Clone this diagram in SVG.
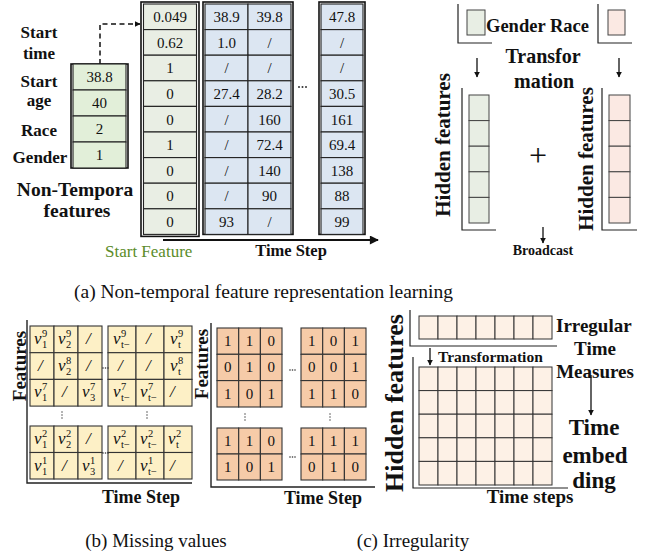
<svg xmlns="http://www.w3.org/2000/svg" width="645" height="555" viewBox="0 0 645 555">
<defs>
<style>
text{font-family:"Liberation Serif","Times New Roman",serif;fill:#111}
.b{font-weight:bold}
.lab{font-weight:bold;font-size:17px;text-anchor:middle}
.num{font-size:15px;text-anchor:middle}
.frame{fill:none;stroke:#111;stroke-width:1.6}
.cg{fill:#e9eee4;stroke:#222;stroke-width:1.1}
.cg2{fill:#e2efd9;stroke:#222;stroke-width:1.1}
.cb{fill:#dce6f2;stroke:#222;stroke-width:1.1}
.hg{fill:#e8eee4;stroke:#444;stroke-width:1}
.hp{fill:#fbe9e3;stroke:#444;stroke-width:1}
.cy{fill:#fdf0c6;stroke:#333;stroke-width:1.1}
.co{fill:#f6cba8;stroke:#333;stroke-width:1.1}
.cc{fill:#fdf1e6;stroke:#333;stroke-width:1}
.ax{fill:none;stroke:#222;stroke-width:1.4}
.ln{fill:none;stroke:#111;stroke-width:1.3}
.v{font-size:17px;font-style:italic}
.s{font-size:10.5px;font-style:normal}
.bit{font-size:15px;text-anchor:middle}
.dot{fill:#333}
</style>
<marker id="ah" viewBox="0 0 10 10" refX="9" refY="5" markerWidth="6" markerHeight="6" markerUnits="userSpaceOnUse" orient="auto"><path d="M0,0 L10,5 L0,10 z" fill="#111"/></marker>
<marker id="ahb" viewBox="0 0 10 10" refX="9" refY="5" markerWidth="11" markerHeight="9" markerUnits="userSpaceOnUse" orient="auto"><path d="M0,0 L10,5 L0,10 z" fill="#111"/></marker>
</defs>
<rect width="645" height="555" fill="#fff"/>

<!-- connectors -->
<g id="connectors">
<path d="M100,64 V24 H140" fill="none" stroke="#111" stroke-width="1.5" stroke-dasharray="5,3.5" marker-end="url(#ah)"/>
<line x1="163" y1="240" x2="378" y2="240" stroke="#111" stroke-width="2" marker-end="url(#ahb)"/>
<line x1="477" y1="58" x2="477" y2="77" class="ln" marker-end="url(#ah)"/>
<line x1="619" y1="58" x2="619" y2="77" class="ln" marker-end="url(#ah)"/>
<line x1="543" y1="227" x2="543" y2="243" class="ln" marker-end="url(#ah)"/>
<line x1="430" y1="348" x2="430" y2="365" class="ln" marker-end="url(#ah)"/>
<line x1="591" y1="375" x2="591" y2="415" class="ln" marker-end="url(#ah)"/>
</g>

<!-- (a) labels -->
<g id="nt-labels">
<text class="lab" x="39" y="38">Start</text>
<text class="lab" x="39" y="59">time</text>
<text class="lab" x="39" y="87">Start</text>
<text class="lab" x="39" y="106">age</text>
<text class="lab" x="39" y="136">Race</text>
<text class="lab" x="40" y="163">Gender</text>
<text class="b" x="75" y="196" font-size="19.5" text-anchor="middle">Non-Tempora</text>
<text class="b" x="77" y="217" font-size="19.5" text-anchor="middle">features</text>
</g>

<g id="nt-box">
<rect class="frame" x="71" y="64" width="57" height="104"/>
<rect class="cg2" x="73" y="64" width="53" height="26"/>
<rect class="cg2" x="73" y="90" width="53" height="26"/>
<rect class="cg2" x="73" y="116" width="53" height="26"/>
<rect class="cg2" x="73" y="142" width="53" height="26"/>
<text class="num" x="99.5" y="82">38.8</text>
<text class="num" x="99.5" y="108">40</text>
<text class="num" x="99.5" y="134">2</text>
<text class="num" x="99.5" y="160">1</text>
</g>

<g id="start-feature">
<rect class="frame" x="141" y="2" width="58" height="234.4"/>
<rect class="cg" x="143.5" y="4" width="53" height="25.6"/>
<rect class="cg" x="143.5" y="29.6" width="53" height="25.6"/>
<rect class="cg" x="143.5" y="55.2" width="53" height="25.6"/>
<rect class="cg" x="143.5" y="80.8" width="53" height="25.6"/>
<rect class="cg" x="143.5" y="106.4" width="53" height="25.6"/>
<rect class="cg" x="143.5" y="132" width="53" height="25.6"/>
<rect class="cg" x="143.5" y="157.6" width="53" height="25.6"/>
<rect class="cg" x="143.5" y="183.2" width="53" height="25.6"/>
<rect class="cg" x="143.5" y="208.8" width="53" height="25.6"/>
<text class="num" x="170" y="22">0.049</text>
<text class="num" x="170" y="47.5">0.62</text>
<text class="num" x="170" y="73">1</text>
<text class="num" x="170" y="99">0</text>
<text class="num" x="170" y="124.5">0</text>
<text class="num" x="170" y="150">1</text>
<text class="num" x="170" y="175.5">0</text>
<text class="num" x="170" y="201">0</text>
<text class="num" x="170" y="226.5">0</text>
<text x="105" y="257" font-size="17" style="fill:#5b8c2a">Start Feature</text>
</g>

<g id="time-cols">
<rect class="frame" x="203" y="2" width="90" height="232.4"/>
<g class="cb">
<rect x="205" y="4" width="43" height="25.6"/><rect x="248" y="4" width="43" height="25.6"/>
<rect x="205" y="29.6" width="43" height="25.6"/><rect x="248" y="29.6" width="43" height="25.6"/>
<rect x="205" y="55.2" width="43" height="25.6"/><rect x="248" y="55.2" width="43" height="25.6"/>
<rect x="205" y="80.8" width="43" height="25.6"/><rect x="248" y="80.8" width="43" height="25.6"/>
<rect x="205" y="106.4" width="43" height="25.6"/><rect x="248" y="106.4" width="43" height="25.6"/>
<rect x="205" y="132" width="43" height="25.6"/><rect x="248" y="132" width="43" height="25.6"/>
<rect x="205" y="157.6" width="43" height="25.6"/><rect x="248" y="157.6" width="43" height="25.6"/>
<rect x="205" y="183.2" width="43" height="25.6"/><rect x="248" y="183.2" width="43" height="25.6"/>
<rect x="205" y="208.8" width="43" height="25.6"/><rect x="248" y="208.8" width="43" height="25.6"/>
</g>
<text class="num" x="226.5" y="22">38.9</text><text class="num" x="269.5" y="22">39.8</text>
<text class="num" x="226.5" y="47.5">1.0</text><text class="num" x="269.5" y="47.5">/</text>
<text class="num" x="226.5" y="73">/</text><text class="num" x="269.5" y="73">/</text>
<text class="num" x="226.5" y="99">27.4</text><text class="num" x="269.5" y="99">28.2</text>
<text class="num" x="226.5" y="124.5">/</text><text class="num" x="269.5" y="124.5">160</text>
<text class="num" x="226.5" y="150">/</text><text class="num" x="269.5" y="150">72.4</text>
<text class="num" x="226.5" y="175.5">/</text><text class="num" x="269.5" y="175.5">140</text>
<text class="num" x="226.5" y="201">/</text><text class="num" x="269.5" y="201">90</text>
<text class="num" x="226.5" y="226.5">93</text><text class="num" x="269.5" y="226.5">/</text>
<circle class="dot" cx="299" cy="87" r="1"/><circle class="dot" cx="302.5" cy="87" r="1"/><circle class="dot" cx="306" cy="87" r="1"/>
<rect class="frame" x="319" y="2" width="46" height="232.4"/>
<g class="cb">
<rect x="321" y="4" width="42" height="25.6"/>
<rect x="321" y="29.6" width="42" height="25.6"/>
<rect x="321" y="55.2" width="42" height="25.6"/>
<rect x="321" y="80.8" width="42" height="25.6"/>
<rect x="321" y="106.4" width="42" height="25.6"/>
<rect x="321" y="132" width="42" height="25.6"/>
<rect x="321" y="157.6" width="42" height="25.6"/>
<rect x="321" y="183.2" width="42" height="25.6"/>
<rect x="321" y="208.8" width="42" height="25.6"/>
</g>
<text class="num" x="342" y="22">47.8</text>
<text class="num" x="342" y="47.5">/</text>
<text class="num" x="342" y="73">/</text>
<text class="num" x="342" y="99">30.5</text>
<text class="num" x="342" y="124.5">161</text>
<text class="num" x="342" y="150">69.4</text>
<text class="num" x="342" y="175.5">138</text>
<text class="num" x="342" y="201">88</text>
<text class="num" x="342" y="226.5">99</text>
<text class="b" x="291" y="256" font-size="16.5" text-anchor="middle">Time Step</text>
</g>

<!-- right of (a) -->
<g id="embed-inputs">
<path class="ax" d="M458,4 V43 H492" style="stroke-width:1.2"/>
<rect class="hg" x="467" y="10" width="18" height="25"/>
<path class="ax" d="M598,4 V43 H632" style="stroke-width:1.2"/>
<rect class="hp" x="608" y="10" width="17" height="25"/>
<text class="b" x="486" y="32" font-size="18.5">Gender Race</text>
<text class="b" x="543" y="63" font-size="20" text-anchor="middle">Transfor</text>
<text class="b" x="544" y="88" font-size="20" text-anchor="middle">mation</text>
</g>

<g id="hidden-left">
<path class="ax" d="M462,88 V230 H496" style="stroke-width:1.2"/>
<rect class="hg" x="469" y="95" width="20" height="25.6"/>
<rect class="hg" x="469" y="120.6" width="20" height="25.6"/>
<rect class="hg" x="469" y="146.2" width="20" height="25.6"/>
<rect class="hg" x="469" y="171.8" width="20" height="25.6"/>
<rect class="hg" x="469" y="197.4" width="20" height="25.6"/>
<text class="b" font-size="21" text-anchor="middle" transform="translate(450,145) rotate(-90)">Hidden features</text>
</g>
<text id="plus" x="538" y="166" font-size="32" text-anchor="middle">+</text>
<g id="hidden-right">
<path class="ax" d="M602,88 V230 H637" style="stroke-width:1.2"/>
<rect class="hp" x="609" y="95" width="21" height="25.6"/>
<rect class="hp" x="609" y="120.6" width="21" height="25.6"/>
<rect class="hp" x="609" y="146.2" width="21" height="25.6"/>
<rect class="hp" x="609" y="171.8" width="21" height="25.6"/>
<rect class="hp" x="609" y="197.4" width="21" height="25.6"/>
<text class="b" font-size="21" text-anchor="middle" transform="translate(593,159) rotate(-90)">Hidden features</text>
</g>
<text class="b" x="543" y="255" font-size="14" text-anchor="middle">Broadcast</text>

<text x="263.5" y="298" font-size="19.5" text-anchor="middle">(a) Non-temporal feature representation learning</text>

<!-- (b) missing values -->
<g id="missing">
<path class="ax" d="M27,320 V483 H192"/>
<text class="b" font-size="19" text-anchor="middle" transform="translate(26,366) rotate(-90)">Features</text>
<g class="cy">
<rect x="30" y="326" width="24" height="26.7"/><rect x="54" y="326" width="24" height="26.7"/><rect x="78" y="326" width="24" height="26.7"/>
<rect x="30" y="352.7" width="24" height="26.7"/><rect x="54" y="352.7" width="24" height="26.7"/><rect x="78" y="352.7" width="24" height="26.7"/>
<rect x="30" y="379.4" width="24" height="26.7"/><rect x="54" y="379.4" width="24" height="26.7"/><rect x="78" y="379.4" width="24" height="26.7"/>
<rect x="108" y="326" width="28" height="26.7"/><rect x="136" y="326" width="28" height="26.7"/><rect x="164" y="326" width="28" height="26.7"/>
<rect x="108" y="352.7" width="28" height="26.7"/><rect x="136" y="352.7" width="28" height="26.7"/><rect x="164" y="352.7" width="28" height="26.7"/>
<rect x="108" y="379.4" width="28" height="26.7"/><rect x="136" y="379.4" width="28" height="26.7"/><rect x="164" y="379.4" width="28" height="26.7"/>
<rect x="30" y="426" width="24" height="26.5"/><rect x="54" y="426" width="24" height="26.5"/><rect x="78" y="426" width="24" height="26.5"/>
<rect x="30" y="452.5" width="24" height="26.5"/><rect x="54" y="452.5" width="24" height="26.5"/><rect x="78" y="452.5" width="24" height="26.5"/>
<rect x="108" y="426" width="28" height="26.5"/><rect x="136" y="426" width="28" height="26.5"/><rect x="164" y="426" width="28" height="26.5"/>
<rect x="108" y="452.5" width="28" height="26.5"/><rect x="136" y="452.5" width="28" height="26.5"/><rect x="164" y="452.5" width="28" height="26.5"/>
</g>
<!-- TL -->
<text class="v"><tspan x="34" y="344">v</tspan><tspan class="s" x="42" y="337">9</tspan><tspan class="s" x="42" y="348">1</tspan></text>
<text class="v"><tspan x="58" y="344">v</tspan><tspan class="s" x="66" y="337">9</tspan><tspan class="s" x="66" y="348">2</tspan></text>
<text class="v"><tspan x="86" y="344">/</tspan></text>
<text class="v"><tspan x="38" y="371">/</tspan></text>
<text class="v"><tspan x="58" y="371">v</tspan><tspan class="s" x="66" y="364">8</tspan><tspan class="s" x="66" y="375">2</tspan></text>
<text class="v"><tspan x="86" y="371">/</tspan></text>
<text class="v"><tspan x="34" y="397">v</tspan><tspan class="s" x="42" y="390">7</tspan><tspan class="s" x="42" y="401">1</tspan></text>
<text class="v"><tspan x="62" y="397">/</tspan></text>
<text class="v"><tspan x="82" y="397">v</tspan><tspan class="s" x="90" y="390">7</tspan><tspan class="s" x="90" y="401">3</tspan></text>
<!-- TR -->
<text class="v"><tspan x="113" y="344">v</tspan><tspan class="s" x="121" y="337">9</tspan><tspan class="s" x="121" y="348">t−</tspan></text>
<text class="v"><tspan x="146" y="344">/</tspan></text>
<text class="v"><tspan x="170" y="344">v</tspan><tspan class="s" x="178" y="337">9</tspan><tspan class="s" x="178" y="348">t</tspan></text>
<text class="v"><tspan x="118" y="371">/</tspan></text>
<text class="v"><tspan x="146" y="371">/</tspan></text>
<text class="v"><tspan x="170" y="371">v</tspan><tspan class="s" x="178" y="364">8</tspan><tspan class="s" x="178" y="375">t</tspan></text>
<text class="v"><tspan x="113" y="397">v</tspan><tspan class="s" x="121" y="390">7</tspan><tspan class="s" x="121" y="401">t−</tspan></text>
<text class="v"><tspan x="140" y="397">v</tspan><tspan class="s" x="148" y="390">7</tspan><tspan class="s" x="148" y="401">t−</tspan></text>
<text class="v"><tspan x="170" y="397">/</tspan></text>
<!-- BL -->
<text class="v"><tspan x="34" y="444">v</tspan><tspan class="s" x="42" y="437">2</tspan><tspan class="s" x="42" y="448">1</tspan></text>
<text class="v"><tspan x="58" y="444">v</tspan><tspan class="s" x="66" y="437">2</tspan><tspan class="s" x="66" y="448">2</tspan></text>
<text class="v"><tspan x="86" y="444">/</tspan></text>
<text class="v"><tspan x="34" y="471">v</tspan><tspan class="s" x="42" y="464">1</tspan><tspan class="s" x="42" y="475">1</tspan></text>
<text class="v"><tspan x="62" y="471">/</tspan></text>
<text class="v"><tspan x="82" y="471">v</tspan><tspan class="s" x="90" y="464">1</tspan><tspan class="s" x="90" y="475">3</tspan></text>
<!-- BR -->
<text class="v"><tspan x="113" y="444">v</tspan><tspan class="s" x="121" y="437">2</tspan><tspan class="s" x="121" y="448">t−</tspan></text>
<text class="v"><tspan x="140" y="444">v</tspan><tspan class="s" x="148" y="437">2</tspan><tspan class="s" x="148" y="448">t−</tspan></text>
<text class="v"><tspan x="168" y="444">v</tspan><tspan class="s" x="176" y="437">2</tspan><tspan class="s" x="176" y="448">t</tspan></text>
<text class="v"><tspan x="118" y="471">/</tspan></text>
<text class="v"><tspan x="140" y="471">v</tspan><tspan class="s" x="148" y="464">1</tspan><tspan class="s" x="148" y="475">t−</tspan></text>
<text class="v"><tspan x="170" y="471">/</tspan></text>
<circle class="dot" cx="103" cy="368" r="0.8"/><circle class="dot" cx="105.5" cy="368" r="0.8"/><circle class="dot" cx="108" cy="368" r="0.8"/>
<circle class="dot" cx="103" cy="453" r="0.8"/><circle class="dot" cx="105.5" cy="453" r="0.8"/><circle class="dot" cx="108" cy="453" r="0.8"/>
<circle class="dot" cx="62" cy="412" r="0.7"/><circle class="dot" cx="62" cy="415" r="0.7"/><circle class="dot" cx="62" cy="418" r="0.7"/>
<circle class="dot" cx="147" cy="412" r="0.7"/><circle class="dot" cx="147" cy="415" r="0.7"/><circle class="dot" cx="147" cy="418" r="0.7"/>
<text class="b" x="141" y="503" font-size="18" text-anchor="middle">Time Step</text>
</g>

<g id="mask">
<path class="ax" d="M211,323 V487 H375"/>
<text class="b" font-size="19" text-anchor="middle" transform="translate(208,364) rotate(-90)">Features</text>
<g class="co">
<rect x="217" y="328" width="21.7" height="26.3"/><rect x="238.7" y="328" width="21.7" height="26.3"/><rect x="260.4" y="328" width="21.6" height="26.3"/>
<rect x="217" y="354.3" width="21.7" height="26.3"/><rect x="238.7" y="354.3" width="21.7" height="26.3"/><rect x="260.4" y="354.3" width="21.6" height="26.3"/>
<rect x="217" y="380.6" width="21.7" height="26.4"/><rect x="238.7" y="380.6" width="21.7" height="26.4"/><rect x="260.4" y="380.6" width="21.6" height="26.4"/>
<rect x="301" y="328" width="21.7" height="26.3"/><rect x="322.7" y="328" width="21.7" height="26.3"/><rect x="344.4" y="328" width="21.6" height="26.3"/>
<rect x="301" y="354.3" width="21.7" height="26.3"/><rect x="322.7" y="354.3" width="21.7" height="26.3"/><rect x="344.4" y="354.3" width="21.6" height="26.3"/>
<rect x="301" y="380.6" width="21.7" height="26.4"/><rect x="322.7" y="380.6" width="21.7" height="26.4"/><rect x="344.4" y="380.6" width="21.6" height="26.4"/>
<rect x="217" y="428" width="21.7" height="26"/><rect x="238.7" y="428" width="21.7" height="26"/><rect x="260.4" y="428" width="21.6" height="26"/>
<rect x="217" y="454" width="21.7" height="26"/><rect x="238.7" y="454" width="21.7" height="26"/><rect x="260.4" y="454" width="21.6" height="26"/>
<rect x="301" y="428" width="21.7" height="26"/><rect x="322.7" y="428" width="21.7" height="26"/><rect x="344.4" y="428" width="21.6" height="26"/>
<rect x="301" y="454" width="21.7" height="26"/><rect x="322.7" y="454" width="21.7" height="26"/><rect x="344.4" y="454" width="21.6" height="26"/>
</g>
<text class="bit" x="227.8" y="346">1</text><text class="bit" x="249.5" y="346">1</text><text class="bit" x="271.2" y="346">0</text>
<text class="bit" x="227.8" y="372">0</text><text class="bit" x="249.5" y="372">1</text><text class="bit" x="271.2" y="372">0</text>
<text class="bit" x="227.8" y="399">1</text><text class="bit" x="249.5" y="399">0</text><text class="bit" x="271.2" y="399">1</text>
<text class="bit" x="311.8" y="346">1</text><text class="bit" x="333.5" y="346">0</text><text class="bit" x="355.2" y="346">1</text>
<text class="bit" x="311.8" y="372">0</text><text class="bit" x="333.5" y="372">0</text><text class="bit" x="355.2" y="372">1</text>
<text class="bit" x="311.8" y="399">1</text><text class="bit" x="333.5" y="399">1</text><text class="bit" x="355.2" y="399">0</text>
<text class="bit" x="227.8" y="446">1</text><text class="bit" x="249.5" y="446">1</text><text class="bit" x="271.2" y="446">0</text>
<text class="bit" x="227.8" y="472">1</text><text class="bit" x="249.5" y="472">0</text><text class="bit" x="271.2" y="472">1</text>
<text class="bit" x="311.8" y="446">1</text><text class="bit" x="333.5" y="446">1</text><text class="bit" x="355.2" y="446">1</text>
<text class="bit" x="311.8" y="472">0</text><text class="bit" x="333.5" y="472">1</text><text class="bit" x="355.2" y="472">0</text>
<circle class="dot" cx="290" cy="370" r="0.8"/><circle class="dot" cx="292.5" cy="370" r="0.8"/><circle class="dot" cx="295" cy="370" r="0.8"/>
<circle class="dot" cx="290" cy="457" r="0.8"/><circle class="dot" cx="292.5" cy="457" r="0.8"/><circle class="dot" cx="295" cy="457" r="0.8"/>
<circle class="dot" cx="245" cy="414" r="0.7"/><circle class="dot" cx="245" cy="417" r="0.7"/><circle class="dot" cx="245" cy="420" r="0.7"/>
<circle class="dot" cx="330" cy="414" r="0.7"/><circle class="dot" cx="330" cy="417" r="0.7"/><circle class="dot" cx="330" cy="420" r="0.7"/>
<text class="b" x="323" y="504" font-size="18" text-anchor="middle">Time Step</text>
</g>

<!-- (c) irregularity -->
<g id="irregular">
<text class="b" font-size="26" text-anchor="middle" transform="translate(403,403) rotate(-90)">Hidden features</text>
<path class="ax" d="M410,310 V346 H557" style="stroke-width:1.2"/>
<g class="cc">
<rect x="419" y="316" width="19" height="23"/><rect x="438" y="316" width="19" height="23"/><rect x="457" y="316" width="19" height="23"/><rect x="476" y="316" width="19" height="23"/><rect x="495" y="316" width="19" height="23"/><rect x="514" y="316" width="19" height="23"/><rect x="533" y="316" width="19" height="23"/>
</g>
<text class="b" x="556" y="332" font-size="19">Irregular</text>
<text class="b" x="595" y="355" font-size="19" text-anchor="middle">Time</text>
<text class="b" x="595" y="378" font-size="19" text-anchor="middle">Measures</text>
<text class="b" x="438" y="362" font-size="15.5">Transformation</text>
<path class="ax" d="M413,357 V488 H568" style="stroke-width:1.2"/>
<g class="cc">
<rect x="419" y="367" width="19" height="23.6"/><rect x="438" y="367" width="19" height="23.6"/><rect x="457" y="367" width="19" height="23.6"/><rect x="476" y="367" width="19" height="23.6"/><rect x="495" y="367" width="19" height="23.6"/><rect x="514" y="367" width="19" height="23.6"/><rect x="533" y="367" width="19" height="23.6"/>
<rect x="419" y="390.6" width="19" height="23.6"/><rect x="438" y="390.6" width="19" height="23.6"/><rect x="457" y="390.6" width="19" height="23.6"/><rect x="476" y="390.6" width="19" height="23.6"/><rect x="495" y="390.6" width="19" height="23.6"/><rect x="514" y="390.6" width="19" height="23.6"/><rect x="533" y="390.6" width="19" height="23.6"/>
<rect x="419" y="414.2" width="19" height="23.6"/><rect x="438" y="414.2" width="19" height="23.6"/><rect x="457" y="414.2" width="19" height="23.6"/><rect x="476" y="414.2" width="19" height="23.6"/><rect x="495" y="414.2" width="19" height="23.6"/><rect x="514" y="414.2" width="19" height="23.6"/><rect x="533" y="414.2" width="19" height="23.6"/>
<rect x="419" y="437.8" width="19" height="23.6"/><rect x="438" y="437.8" width="19" height="23.6"/><rect x="457" y="437.8" width="19" height="23.6"/><rect x="476" y="437.8" width="19" height="23.6"/><rect x="495" y="437.8" width="19" height="23.6"/><rect x="514" y="437.8" width="19" height="23.6"/><rect x="533" y="437.8" width="19" height="23.6"/>
<rect x="419" y="461.4" width="19" height="23.6"/><rect x="438" y="461.4" width="19" height="23.6"/><rect x="457" y="461.4" width="19" height="23.6"/><rect x="476" y="461.4" width="19" height="23.6"/><rect x="495" y="461.4" width="19" height="23.6"/><rect x="514" y="461.4" width="19" height="23.6"/><rect x="533" y="461.4" width="19" height="23.6"/>
</g>
<text class="b" x="594" y="435" font-size="23" text-anchor="middle">Time</text>
<text class="b" x="595" y="463" font-size="23" text-anchor="middle">embed</text>
<text class="b" x="594" y="488" font-size="23" text-anchor="middle">ding</text>
<text class="b" x="530" y="503" font-size="19" text-anchor="middle">Time steps</text>
</g>

<text x="156" y="547" font-size="19" text-anchor="middle">(b) Missing values</text>
<text x="413" y="547" font-size="19" text-anchor="middle">(c) Irregularity</text>
</svg>
